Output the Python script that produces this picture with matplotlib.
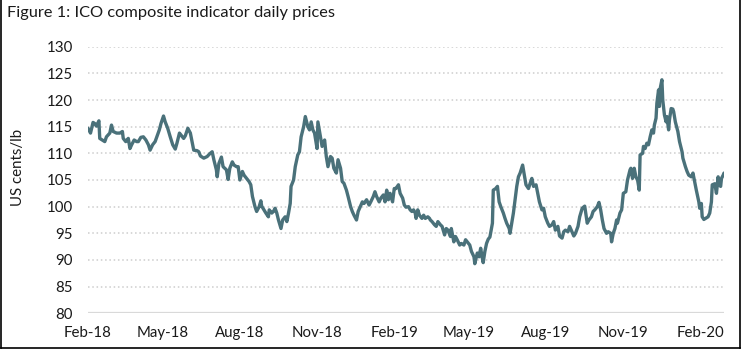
import matplotlib
matplotlib.use("Agg")
import matplotlib.pyplot as plt
from matplotlib.lines import Line2D
import pandas as pd

plt.rcParams["font.family"] = ["Lato", "DejaVu Sans"]

# ICO composite indicator, US cents/lb
dates = [
    "2018-02-01", "2018-02-04", "2018-02-07", "2018-02-09", "2018-02-11", "2018-02-14", "2018-02-15",
    "2018-02-18", "2018-02-21", "2018-02-23", "2018-02-27",
    "2018-03-01", "2018-03-03", "2018-03-07", "2018-03-11", "2018-03-14", "2018-03-15", "2018-03-18",
    "2018-03-21", "2018-03-23", "2018-03-25", "2018-03-28", "2018-03-31",
    "2018-04-02", "2018-04-05", "2018-04-08", "2018-04-11", "2018-04-14", "2018-04-16", "2018-04-19",
    "2018-04-22", "2018-04-24", "2018-04-27", "2018-04-29",
    "2018-05-02", "2018-05-04", "2018-05-07", "2018-05-10", "2018-05-13", "2018-05-16", "2018-05-18",
    "2018-05-21", "2018-05-23", "2018-05-26", "2018-05-28", "2018-05-31",
    "2018-06-03", "2018-06-05", "2018-06-07", "2018-06-11", "2018-06-13", "2018-06-15", "2018-06-19",
    "2018-06-23", "2018-06-26", "2018-06-29",
    "2018-07-01", "2018-07-04", "2018-07-05", "2018-07-07", "2018-07-10", "2018-07-12", "2018-07-16",
    "2018-07-18", "2018-07-20", "2018-07-23", "2018-07-25", "2018-07-28", "2018-07-30",
    "2018-08-01", "2018-08-04", "2018-08-06", "2018-08-09", "2018-08-12", "2018-08-14", "2018-08-16",
    "2018-08-19", "2018-08-21", "2018-08-24", "2018-08-26", "2018-08-27", "2018-08-30",
    "2018-09-01", "2018-09-04", "2018-09-05", "2018-09-08", "2018-09-10", "2018-09-12", "2018-09-14",
    "2018-09-16", "2018-09-19", "2018-09-21", "2018-09-24", "2018-09-26", "2018-09-28", "2018-09-30",
    "2018-10-01", "2018-10-04", "2018-10-06", "2018-10-09", "2018-10-11", "2018-10-13", "2018-10-16",
    "2018-10-18", "2018-10-21", "2018-10-23", "2018-10-25", "2018-10-27", "2018-10-29",
    "2018-11-01", "2018-11-02", "2018-11-05", "2018-11-07", "2018-11-10", "2018-11-12", "2018-11-14",
    "2018-11-17", "2018-11-19", "2018-11-21", "2018-11-24", "2018-11-26", "2018-11-29",
    "2018-12-01", "2018-12-03", "2018-12-06", "2018-12-08", "2018-12-11", "2018-12-13", "2018-12-15",
    "2018-12-18", "2018-12-20", "2018-12-22", "2018-12-25", "2018-12-27", "2018-12-30",
    "2019-01-02", "2019-01-04", "2019-01-07", "2019-01-09", "2019-01-11", "2019-01-14", "2019-01-16",
    "2019-01-19", "2019-01-21", "2019-01-23", "2019-01-25", "2019-01-27", "2019-01-30",
    "2019-02-01", "2019-02-03", "2019-02-06", "2019-02-08", "2019-02-11", "2019-02-13", "2019-02-15",
    "2019-02-18", "2019-02-20", "2019-02-22", "2019-02-24", "2019-02-26", "2019-02-27",
    "2019-03-01", "2019-03-03", "2019-03-06", "2019-03-08", "2019-03-10", "2019-03-13", "2019-03-15",
    "2019-03-16", "2019-03-18", "2019-03-21", "2019-03-23", "2019-03-25", "2019-03-28", "2019-03-30",
    "2019-04-02", "2019-04-04", "2019-04-06", "2019-04-09", "2019-04-10", "2019-04-13", "2019-04-15",
    "2019-04-17", "2019-04-20", "2019-04-22", "2019-04-25", "2019-04-27", "2019-04-29",
    "2019-05-02", "2019-05-04", "2019-05-07", "2019-05-08", "2019-05-11", "2019-05-13", "2019-05-15",
    "2019-05-17", "2019-05-18", "2019-05-20", "2019-05-22", "2019-05-24", "2019-05-26", "2019-05-29",
    "2019-05-30",
    "2019-06-02", "2019-06-04", "2019-06-06", "2019-06-08", "2019-06-11", "2019-06-13", "2019-06-15",
    "2019-06-18", "2019-06-19", "2019-06-21", "2019-06-23", "2019-06-25", "2019-06-27", "2019-06-29",
    "2019-07-01", "2019-07-04", "2019-07-06", "2019-07-08", "2019-07-11", "2019-07-13", "2019-07-15",
    "2019-07-17", "2019-07-20", "2019-07-22", "2019-07-24", "2019-07-27", "2019-07-29", "2019-07-31",
    "2019-08-03", "2019-08-05", "2019-08-08", "2019-08-10", "2019-08-12", "2019-08-15", "2019-08-17",
    "2019-08-20", "2019-08-22", "2019-08-24", "2019-08-27", "2019-08-29", "2019-08-31",
    "2019-09-03", "2019-09-05", "2019-09-08", "2019-09-10", "2019-09-13", "2019-09-16", "2019-09-19",
    "2019-09-21", "2019-09-24", "2019-09-26", "2019-09-28",
    "2019-10-01", "2019-10-03", "2019-10-05", "2019-10-07", "2019-10-09", "2019-10-12", "2019-10-14",
    "2019-10-17", "2019-10-18", "2019-10-20", "2019-10-22", "2019-10-24", "2019-10-25", "2019-10-28",
    "2019-10-30",
    "2019-11-01", "2019-11-04", "2019-11-06", "2019-11-09", "2019-11-10", "2019-11-12", "2019-11-14",
    "2019-11-16", "2019-11-18", "2019-11-20", "2019-11-21", "2019-11-24", "2019-11-25", "2019-11-27",
    "2019-11-29",
    "2019-12-01", "2019-12-03", "2019-12-05", "2019-12-07", "2019-12-08", "2019-12-10", "2019-12-11",
    "2019-12-13", "2019-12-14", "2019-12-15", "2019-12-17", "2019-12-18", "2019-12-20", "2019-12-22",
    "2019-12-23", "2019-12-25", "2019-12-26", "2019-12-28", "2019-12-30", "2019-12-31",
    "2020-01-02", "2020-01-05", "2020-01-07", "2020-01-10", "2020-01-11", "2020-01-14", "2020-01-16",
    "2020-01-18", "2020-01-21", "2020-01-23", "2020-01-25", "2020-01-27", "2020-01-30", "2020-01-31",
    "2020-02-02", "2020-02-03", "2020-02-05", "2020-02-07", "2020-02-10", "2020-02-12", "2020-02-14",
    "2020-02-15", "2020-02-18", "2020-02-20", "2020-02-22", "2020-02-23", "2020-02-25", "2020-02-26",
    "2020-02-28", "2020-02-29",
]

prices = [
    114.7, 113.8, 115.8, 115.6, 115.1, 116.1, 112.8,
    112.5, 112.2, 113.1, 113.8,
    115.3, 114.1, 113.8, 113.8, 114.1, 112.8, 112.2,
    112.8, 110.9, 111.6, 112.5, 112.2,
    112.2, 113.0, 113.1, 112.5, 111.6, 110.6, 111.6,
    112.2, 113.1, 114.4, 115.6,
    117.0, 115.9, 114.7, 113.1, 111.6, 110.8, 111.9,
    113.8, 113.4, 112.8, 113.3, 114.7,
    113.8, 112.2, 110.6, 110.5, 110.3, 109.5, 109.1,
    109.4, 109.9, 110.3,
    108.8, 106.9, 105.6, 108.1, 109.3, 107.5, 106.9,
    105.1, 107.2, 108.4, 107.8, 107.5, 107.5,
    105.0, 106.6, 105.9, 105.3, 104.7, 104.1, 101.9,
    100.0, 99.1, 100.0, 101.1, 100.1, 99.3,
    98.8, 98.1, 99.4, 98.8, 99.1, 99.7, 98.8,
    97.5, 95.9, 97.5, 98.1, 97.2, 98.8, 100.6,
    103.8, 105.0, 107.5, 109.7, 110.3, 113.1, 115.0,
    116.9, 115.0, 114.4, 115.9, 114.4, 113.8,
    110.9, 115.9, 113.1, 111.3, 112.5, 109.4, 107.5,
    109.4, 109.1, 107.2, 106.3, 108.8, 107.2,
    104.7, 104.4, 103.1, 101.9, 100.0, 99.1, 98.4,
    97.5, 99.1, 99.8, 100.9, 100.6, 101.3,
    100.3, 100.9, 101.9, 102.8, 101.9, 100.9, 101.6,
    102.2, 100.9, 103.1, 101.3, 102.5, 100.9,
    103.4, 103.4, 104.1, 102.5, 101.6, 100.3, 99.9,
    100.0, 99.4, 99.1, 99.4, 98.8, 97.8,
    99.4, 98.4, 97.8, 98.4, 97.8, 98.1, 97.8,
    97.5, 97.2, 96.6, 96.3, 97.2, 96.6, 96.3,
    94.7, 95.9, 95.6, 94.4, 95.9, 93.4, 94.4,
    93.8, 92.8, 93.1, 92.8, 93.8, 93.4,
    92.8, 91.6, 90.6, 89.3, 91.3, 90.6, 92.2,
    90.3, 89.5, 91.6, 93.1, 93.9, 94.3, 96.9,
    103.1,
    103.4, 103.8, 100.9, 100.0, 98.8, 97.8, 96.9,
    95.9, 95.0, 96.9, 98.8, 101.3, 103.8, 105.6,
    106.3, 107.8, 105.9, 104.1, 103.4, 104.4, 105.3,
    103.8, 104.1, 102.5, 100.9, 99.4, 99.7, 98.1,
    96.9, 96.3, 96.6, 97.2, 95.6, 96.3, 94.5,
    94.1, 95.3, 95.6, 95.3, 96.3, 95.6,
    94.5, 95.0, 96.3, 98.1, 99.7, 100.1, 96.9,
    97.5, 98.1, 99.1, 99.4,
    100.0, 100.8, 99.4, 97.5, 95.9, 95.0, 95.3,
    95.0, 93.4, 95.0, 95.9, 97.5, 96.9, 98.8,
    99.4,
    102.5, 102.8, 105.0, 106.9, 107.2, 105.3, 107.2,
    105.6, 105.0, 103.1, 109.7, 110.0, 111.3, 110.9,
    111.9,
    111.6, 113.1, 114.4, 113.8, 115.3, 116.6, 119.4,
    121.9, 118.8, 122.2, 123.8, 120.0, 117.2, 115.9,
    116.9, 114.4, 116.3, 118.4, 118.3, 117.8,
    115.9, 114.1, 112.2, 110.3, 109.1, 107.5, 106.6,
    105.9, 105.6, 106.3, 104.7, 103.1, 100.9, 99.7,
    100.6, 98.1, 97.6, 97.8, 98.1, 98.8, 100.9,
    104.1, 104.3, 102.5, 105.6, 104.1, 103.8, 105.3,
    105.9, 106.3,
]

tick_labels = ["Feb-18", "May-18", "Aug-18", "Nov-18", "Feb-19",
               "May-19", "Aug-19", "Nov-19", "Feb-20"]
tick_dates = ["2018-02-01", "2018-05-01", "2018-08-01", "2018-11-01", "2019-02-01",
              "2019-05-01", "2019-08-01", "2019-11-01", "2020-02-01"]
y_ticks = [80, 85, 90, 95, 100, 105, 110, 115, 120, 125, 130]

series = pd.Series(prices, index=pd.to_datetime(dates))

W, H = 743, 349
fig = plt.figure(figsize=(W / 100, H / 100), dpi=100)
ax = fig.add_axes([88 / W, (H - 313.3) / H, (724 - 88) / W, (313.3 - 46.7) / H])

line_color = "#4A717A"
ax.plot(series.index, series.values, color=line_color, lw=2.4,
        solid_joinstyle="round", solid_capstyle="round", zorder=3)

ax.set_xlim(pd.Timestamp(dates[0]), pd.Timestamp(dates[-1]))
ax.set_ylim(y_ticks[0], y_ticks[-1])
ax.set_yticks(y_ticks)
ax.set_xticks(pd.to_datetime(tick_dates))
ax.set_xticklabels(tick_labels)

# dotted horizontal gridlines, solid baseline at the bottom
for v in y_ticks[1:]:
    ax.axhline(v, color="#cdcdcd", lw=1.1, ls=(0, (1, 1.8)), zorder=1)
ax.axhline(y_ticks[0], color="#d9d9d9", lw=1.6, zorder=1)

for s in ax.spines.values():
    s.set_visible(False)
ax.tick_params(axis="both", length=0, labelsize=10.8, colors="#1a1a1a")
ax.tick_params(axis="y", pad=11)
ax.tick_params(axis="x", pad=9)

fig.text(18 / W, 1 - 167 / H, "US cents/lb", rotation=90, ha="center", va="center",
         fontsize=10.8, color="#1a1a1a")
fig.text(7 / W, 1 - 13 / H, "Figure 1: ICO composite indicator daily prices",
         ha="left", va="center", fontsize=11.8, color="#1a1a1a")

# outer frame
frame = dict(color="black", lw=1.2, transform=fig.transFigure, figure=fig)
fig.lines.extend([
    Line2D([0.6 / W, 0.6 / W], [1 / H, 1], **frame),
    Line2D([740 / W, 740 / W], [1.5 / H, 1], **frame),
    Line2D([0.6 / W, 740 / W], [1.5 / H, 1.5 / H], **frame),
])

fig.savefig("out.png", dpi=100)
